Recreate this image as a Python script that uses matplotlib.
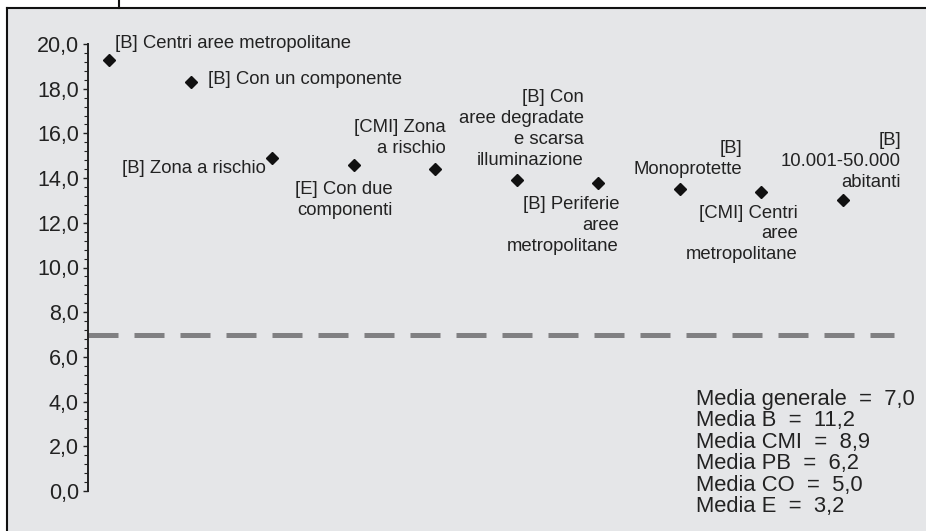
import matplotlib
matplotlib.use("Agg")
import matplotlib.pyplot as plt
from matplotlib.patches import Rectangle
from matplotlib.lines import Line2D
from matplotlib.ticker import MultipleLocator, FuncFormatter

plt.rcParams['font.family'] = ['Liberation Sans', 'DejaVu Sans']

# values
labels = [
    "[B] Centri aree metropolitane",
    "[B] Con un componente",
    "[B] Zona a rischio",
    "[E] Con due\ncomponenti",
    "[CMI] Zona\na rischio",
    "[B] Con\naree degradate\ne scarsa\nilluminazione",
    "[B] Periferie\naree\nmetropolitane",
    "[B]\nMonoprotette",
    "[CMI] Centri\naree\nmetropolitane",
    "[B]\n10.001-50.000\nabitanti",
]
values = [19.3, 18.3, 14.9, 14.6, 14.4, 13.9, 13.8, 13.5, 13.4, 13.0]
media_generale = 7.0
medie = [("generale", 7.0), ("B", 11.2), ("CMI", 8.9), ("PB", 6.2), ("CO", 5.0), ("E", 3.2)]

# label placement (data coords) and alignment
label_pos = [(0.074, 20.0), (1.215, 18.39), (1.926, 14.41), (3.485, 13.02),
             (4.135, 15.79), (5.828, 16.20), (6.258, 11.88), (7.767, 14.85),
             (8.454, 11.50), (9.718, 14.74)]
label_ha = ['left', 'left', 'right', 'right', 'right', 'right', 'right', 'right', 'right', 'right']

W, H = 926, 531
fig = plt.figure(figsize=(W / 100, H / 100), dpi=100)
fig.patch.set_facecolor('white')

# grey panel and frame lines
fig.patches.append(Rectangle((8 / W, 0), 1 - 8 / W, 1 - 8 / H, transform=fig.transFigure,
                             facecolor='#e5e6e8', edgecolor='none', zorder=-5))
fig.lines.append(Line2D([7 / W, 1], [1 - 7.5 / H] * 2, transform=fig.transFigure, color='#111111', lw=1.5))
fig.lines.append(Line2D([7 / W, 7 / W], [0, 1 - 7.5 / H], transform=fig.transFigure, color='#111111', lw=1.5))
fig.lines.append(Line2D([119 / W, 119 / W], [1 - 7.5 / H, 1], transform=fig.transFigure, color='#111111', lw=1.5))

ax = fig.add_axes([88 / W, 40 / H, (W - 88) / W, (491 - 44) / H])
ax.set_zorder(2)
ax.set_facecolor('none')
ax.set_xlim(-21 / 81.5, (W - 109) / 81.5)
ax.set_ylim(0, 20)

x = list(range(len(values)))
ax.plot(x, values, linestyle='none', marker='D', markersize=6.3, color='#111111', zorder=3)

ax.plot([ax.get_xlim()[0], 9.63], [media_generale, media_generale], color='#808082',
        lw=3.6, dashes=(6.0, 3.2), solid_capstyle='butt', dash_capstyle='butt', zorder=2)

for (tx, ty), ha, lab in zip(label_pos, label_ha, labels):
    ax.text(tx, ty, lab, ha=ha, va='center', multialignment=ha, fontsize=13.3,
            color='#222222', linespacing=1.3)

media_txt = "\n".join(f"Media {k}  =  {v:.1f}".replace('.', ',') for k, v in medie)
fig.text(696 / W, 1 - 389 / H, media_txt, ha='left', va='top', fontsize=15.8,
         color='#222222', linespacing=1.03)

for s in ['top', 'right', 'bottom']:
    ax.spines[s].set_visible(False)
ax.spines['left'].set_linewidth(1.4)
ax.spines['left'].set_color('#222222')
ax.xaxis.set_visible(False)
ax.yaxis.set_major_locator(MultipleLocator(2))
ax.yaxis.set_minor_locator(MultipleLocator(0.4))
ax.yaxis.set_major_formatter(FuncFormatter(lambda v, p: f"{v:.1f}".replace('.', ',')))
ax.tick_params(axis='y', which='major', direction='out', length=3.5, width=1.0, pad=3,
               labelsize=15.5, colors='#222222')
ax.tick_params(axis='y', which='minor', direction='out', length=3.0, width=0.8, colors='#222222')

fig.savefig('out.png', dpi=100)
